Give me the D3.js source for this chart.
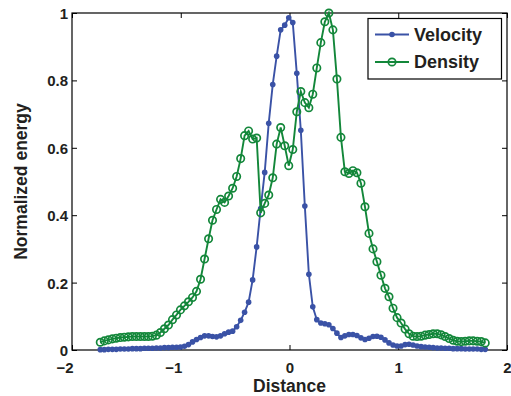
<!DOCTYPE html>
<html>
<head>
<meta charset="utf-8">
<script src="https://cdn.jsdelivr.net/npm/d3@7"></script>
<style>
  html, body { margin: 0; padding: 0; background: #fff; }
  svg { display: block; font-family: "Liberation Sans", Arial, Helvetica, sans-serif; }
</style>
</head>
<body>
<svg id="chart" width="511" height="396"></svg>
<script>
// Sampling positions along the distance axis
const distance = [
  -1.740, -1.703, -1.666, -1.629, -1.593, -1.556, -1.519, -1.482, -1.445, -1.408,
  -1.371, -1.334, -1.298, -1.261, -1.224, -1.187, -1.150, -1.113, -1.076, -1.039,
  -1.003, -0.966, -0.929, -0.892, -0.855, -0.818, -0.781, -0.744, -0.708, -0.671,
  -0.634, -0.597, -0.560, -0.523, -0.486, -0.449, -0.413, -0.376, -0.339, -0.302,
  -0.265, -0.228, -0.191, -0.154, -0.118, -0.081, -0.044, -0.007, 0.030, 0.067,
  0.104, 0.141, 0.178, 0.214, 0.251, 0.288, 0.325, 0.362, 0.399, 0.436,
  0.473, 0.509, 0.546, 0.583, 0.620, 0.657, 0.694, 0.731, 0.768, 0.804,
  0.841, 0.878, 0.915, 0.952, 0.989, 1.026, 1.063, 1.099, 1.136, 1.173,
  1.210, 1.247, 1.284, 1.321, 1.358, 1.394, 1.431, 1.468, 1.505, 1.542,
  1.579, 1.616, 1.653, 1.689, 1.726, 1.763, 1.800
];

// Normalized energy of the velocity field
const velocity = [
  0.001, 0.001, 0.002, 0.002, 0.002, 0.003, 0.003, 0.003, 0.004, 0.004, 0.004,
  0.005, 0.005, 0.005, 0.006, 0.006, 0.007, 0.007, 0.008, 0.008, 0.009,
  0.011, 0.016, 0.024, 0.031, 0.037, 0.042, 0.042, 0.040, 0.039, 0.042,
  0.048, 0.053, 0.056, 0.069, 0.088, 0.112, 0.142, 0.208, 0.306, 0.420,
  0.527, 0.673, 0.788, 0.872, 0.950, 0.964, 0.986, 0.972, 0.821, 0.652,
  0.427, 0.225, 0.128, 0.090, 0.080, 0.078, 0.075, 0.064, 0.050, 0.037,
  0.042, 0.046, 0.046, 0.043, 0.036, 0.031, 0.035, 0.040, 0.041, 0.038,
  0.030, 0.021, 0.015, 0.012, 0.012, 0.016, 0.017, 0.015, 0.012, 0.010,
  0.009, 0.008, 0.007, 0.006, 0.006, 0.005, 0.005, 0.004, 0.004, 0.004,
  0.003, 0.003, 0.003, 0.003, 0.002, 0.002
];

// Normalized energy of the density field
const density = [
  0.023, 0.027, 0.030, 0.033, 0.035, 0.037, 0.038, 0.039, 0.040, 0.040, 0.040,
  0.040, 0.040, 0.041, 0.044, 0.052, 0.063, 0.074, 0.090, 0.104, 0.119,
  0.131, 0.143, 0.156, 0.174, 0.210, 0.270, 0.330, 0.385, 0.417, 0.447,
  0.438, 0.457, 0.480, 0.515, 0.568, 0.636, 0.650, 0.626, 0.629, 0.407,
  0.435, 0.460, 0.511, 0.611, 0.660, 0.606, 0.547, 0.595, 0.707, 0.767,
  0.734, 0.719, 0.759, 0.837, 0.912, 0.974, 1.000, 0.950, 0.804, 0.631,
  0.529, 0.524, 0.532, 0.526, 0.495, 0.425, 0.346, 0.300, 0.262, 0.222,
  0.183, 0.158, 0.124, 0.096, 0.080, 0.062, 0.048, 0.041, 0.040, 0.041,
  0.044, 0.046, 0.048, 0.048, 0.045, 0.040, 0.034, 0.029, 0.026, 0.025,
  0.026, 0.027, 0.027, 0.026, 0.025, 0.021
];

const xTicks = [-2, -1, 0, 1, 2];
const yTicks = [0, 0.2, 0.4, 0.6, 0.8, 1];
const seriesNames = ["Velocity", "Density"];

const svg = d3.select("#chart");
const m = { left: 72, right: 507, top: 13, bottom: 350 };

const x = d3.scaleLinear().domain([-2, 2]).range([m.left, m.right]);
const y = d3.scaleLinear().domain([0, 1]).range([m.bottom, m.top]);

const blue = "#3a52a6";
const green = "#13873a";
const tickFmtX = d => d < 0 ? "\u2212" + Math.abs(d) : String(d);
const tickFmtY = d => d === 0 || d === 1 ? String(d) : d.toFixed(1);

// Axis frame with inward ticks on all four sides
const tickLen = 5;
const bottomAxis = d3.axisBottom(x).tickValues(xTicks).tickSizeInner(-tickLen).tickSizeOuter(0).tickFormat(tickFmtX);
const topAxis = d3.axisTop(x).tickValues(xTicks).tickSizeInner(-tickLen).tickSizeOuter(0).tickFormat("");
const leftAxis = d3.axisLeft(y).tickValues(yTicks).tickSizeInner(-tickLen).tickSizeOuter(0).tickFormat(tickFmtY);
const rightAxis = d3.axisRight(y).tickValues(yTicks).tickSizeInner(-tickLen).tickSizeOuter(0).tickFormat("");

function styleAxis(g) {
  g.select(".domain").remove();
  g.selectAll(".tick line").attr("stroke", "#000").attr("stroke-width", 1);
  g.selectAll(".tick text")
    .attr("fill", "#231f20")
    .attr("font-size", 15)
    .attr("font-weight", "bold");
}

const gB = svg.append("g").attr("transform", `translate(0,${m.bottom})`).call(bottomAxis).call(styleAxis);
gB.selectAll(".tick text")
  .attr("y", 22.5)
  .attr("dy", null)
  .attr("text-anchor", d => d < 0 ? "end" : "middle")
  .attr("dx", d => d < 0 ? 1 : 0);

svg.append("g").attr("transform", `translate(0,${m.top})`).call(topAxis).call(styleAxis);

const gL = svg.append("g").attr("transform", `translate(${m.left},0)`).call(leftAxis).call(styleAxis);
gL.selectAll(".tick text").attr("x", -4).attr("dy", "0.36em");

svg.append("g").attr("transform", `translate(${m.right},0)`).call(rightAxis).call(styleAxis);

// Plot box
svg.append("rect")
  .attr("x", m.left).attr("y", m.top)
  .attr("width", m.right - m.left).attr("height", m.bottom - m.top)
  .attr("fill", "none").attr("stroke", "#000").attr("stroke-width", 1.2);

// Series
const line = d3.line().x(d => x(d[0])).y(d => y(d[1]));
const velPts = distance.map((d, i) => [d, velocity[i]]);
const denPts = distance.map((d, i) => [d, density[i]]);

const plot = svg.append("g");
plot.append("path").datum(velPts)
  .attr("d", line).attr("fill", "none").attr("stroke", blue).attr("stroke-width", 1.9);
plot.selectAll(".vdot").data(velPts).enter().append("circle")
  .attr("cx", d => x(d[0])).attr("cy", d => y(d[1])).attr("r", 2.8)
  .attr("fill", blue);

plot.append("path").datum(denPts)
  .attr("d", line).attr("fill", "none").attr("stroke", green).attr("stroke-width", 1.9);
plot.selectAll(".ddot").data(denPts).enter().append("circle")
  .attr("cx", d => x(d[0])).attr("cy", d => y(d[1])).attr("r", 3.7)
  .attr("fill", "none").attr("stroke", green).attr("stroke-width", 1.7);

// Axis titles
svg.append("text")
  .attr("x", x(0)).attr("y", 392)
  .attr("text-anchor", "middle")
  .attr("font-size", 17.5).attr("font-weight", "bold").attr("fill", "#231f20")
  .text("Distance");

svg.append("text")
  .attr("transform", `translate(27,${(m.top + m.bottom) / 2}) rotate(-90)`)
  .attr("text-anchor", "middle")
  .attr("font-size", 17.5).attr("font-weight", "bold").attr("fill", "#231f20")
  .text("Normalized energy");

// Legend
const lg = svg.append("g");
lg.append("rect")
  .attr("x", 368).attr("y", 18.5).attr("width", 133.5).attr("height", 60.5)
  .attr("fill", "#fff").attr("stroke", "#000").attr("stroke-width", 1.2);
const legendRows = [
  { name: seriesNames[0], color: blue, cy: 34.5, filled: true },
  { name: seriesNames[1], color: green, cy: 62, filled: false }
];
legendRows.forEach(r => {
  lg.append("line")
    .attr("x1", 375).attr("x2", 409).attr("y1", r.cy).attr("y2", r.cy)
    .attr("stroke", r.color).attr("stroke-width", 1.9);
  if (r.filled) {
    lg.append("circle").attr("cx", 392).attr("cy", r.cy).attr("r", 2.8).attr("fill", r.color);
  } else {
    lg.append("circle").attr("cx", 392).attr("cy", r.cy).attr("r", 3.7)
      .attr("fill", "none").attr("stroke", r.color).attr("stroke-width", 1.7);
  }
  lg.append("text")
    .attr("x", 414).attr("y", r.cy).attr("dy", "0.36em")
    .attr("font-size", 18).attr("font-weight", "bold").attr("fill", "#231f20")
    .text(r.name);
});
</script>
</body>
</html>
